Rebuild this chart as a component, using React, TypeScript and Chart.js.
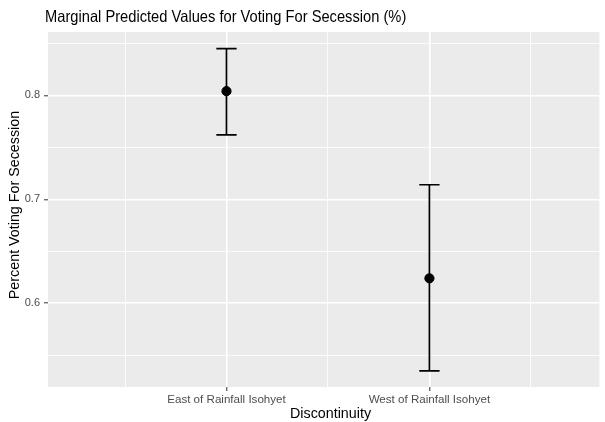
import React, { useEffect, useRef } from "react";
import { Chart, registerables } from "chart.js";

Chart.register(...registerables);

const categories = ["East of Rainfall Isohyet", "West of Rainfall Isohyet"];
const predicted = [0.804, 0.624];
const lowerCI = [0.762, 0.535];
const upperCI = [0.845, 0.714];
const yMajorTicks = [0.6, 0.7, 0.8];
const yMinorTicks = [0.55, 0.65, 0.75, 0.85];

const titleText = "Marginal Predicted Values for Voting For Secession (%)";
const xTitle = "Discontinuity";
const yTitle = "Percent Voting For Secession";
const FONT = "'Liberation Sans', Arial, Helvetica, sans-serif";

const isMajor = (v: number, step: number) => Math.abs(v / step - Math.round(v / step)) < 1e-6;

export default function App() {
  const ref = useRef<HTMLCanvasElement | null>(null);
  useEffect(() => {
    document.body.style.margin = "0";
    document.body.style.overflow = "hidden";
    const canvas = ref.current!;
    const positions = categories.map((_, i) => i + 1);

    const decor = {
      id: "decor",
      beforeDraw(chart: any) {
        const { ctx, chartArea } = chart;
        ctx.save();
        ctx.fillStyle = "#FFFFFF";
        ctx.fillRect(0, 0, chart.width, chart.height);
        ctx.fillStyle = "#EBEBEB";
        ctx.fillRect(chartArea.left, chartArea.top, chartArea.right - chartArea.left, chartArea.bottom - chartArea.top);
        ctx.restore();
      },
      beforeDatasetsDraw(chart: any) {
        const { ctx } = chart;
        const xs = chart.scales.x;
        const ys = chart.scales.y;
        ctx.save();
        ctx.strokeStyle = "#000000";
        ctx.lineWidth = 1.7;
        positions.forEach((p, i) => {
          const x = xs.getPixelForValue(p);
          const xl = xs.getPixelForValue(p - 0.05);
          const xr = xs.getPixelForValue(p + 0.05);
          const yt = ys.getPixelForValue(upperCI[i]);
          const yb = ys.getPixelForValue(lowerCI[i]);
          ctx.beginPath();
          ctx.moveTo(x, yt);
          ctx.lineTo(x, yb);
          ctx.moveTo(xl, yt);
          ctx.lineTo(xr, yt);
          ctx.moveTo(xl, yb);
          ctx.lineTo(xr, yb);
          ctx.stroke();
        });
        ctx.restore();
      },
      afterDraw(chart: any) {
        const { ctx } = chart;
        ctx.save();
        ctx.fillStyle = "#000000";
        ctx.textBaseline = "alphabetic";
        ctx.save();
        ctx.font = `16.5px ${FONT}`;
        ctx.textAlign = "left";
        ctx.translate(45, 22);
        ctx.scale(0.89, 1);
        ctx.fillText(titleText, 0, 0);
        ctx.restore();
        ctx.font = `14.3px ${FONT}`;
        ctx.textAlign = "center";
        ctx.fillText(xTitle, 330.5, 418);
        ctx.translate(19, 205);
        ctx.rotate(-Math.PI / 2);
        ctx.fillText(yTitle, 0, 0);
        ctx.restore();
      },
    };

    const chart = new Chart(canvas, {
      type: "scatter",
      data: {
        datasets: [
          {
            data: positions.map((p, i) => ({ x: p, y: predicted[i] })),
            backgroundColor: "#000000",
            borderColor: "#000000",
            pointRadius: 4.6,
            pointHoverRadius: 4.6,
          },
        ],
      },
      options: {
        animation: false,
        responsive: false,
        devicePixelRatio: 1,
        layout: { padding: { top: 32, left: 0, right: 0, bottom: 0 } },
        plugins: { legend: { display: false }, tooltip: { enabled: false }, title: { display: false } },
        scales: {
          x: {
            type: "linear",
            min: 0.1205,
            max: 2.8376,
            afterBuildTicks: (s: any) => {
              s.ticks = [0.5, 1, 1.5, 2, 2.5].map((v) => ({ value: v }));
            },
            afterFit: (s: any) => {
              s.height = 35;
            },
            ticks: {
              autoSkip: false,
              maxRotation: 0,
              padding: 1.5,
              color: "#4D4D4D",
              font: { family: FONT, size: 11.6 },
              callback: (v: any) => {
                const n = Number(v);
                const idx = positions.indexOf(n);
                return idx >= 0 ? categories[idx] : "";
              },
            },
            grid: {
              color: "#FFFFFF",
              lineWidth: (c: any) => (isMajor(c.tick.value, 1) ? 1.6 : 0.8),
              tickLength: 4,
              tickColor: (c: any) => (isMajor(c.tick.value, 1) ? "#333333" : "rgba(0,0,0,0)"),
              tickWidth: 1,
            },
            border: { display: false },
          },
          y: {
            type: "linear",
            min: 0.5195,
            max: 0.8609,
            afterBuildTicks: (s: any) => {
              s.ticks = [...yMajorTicks, ...yMinorTicks].sort((a, b) => a - b).map((v) => ({ value: v }));
            },
            afterFit: (s: any) => {
              s.width = 48;
            },
            ticks: {
              autoSkip: false,
              padding: 4,
              color: "#4D4D4D",
              font: { family: FONT, size: 11 },
              callback: (v: any) => {
                const n = Number(v);
                return yMajorTicks.some((m) => Math.abs(m - n) < 1e-6) ? n.toFixed(1) : "";
              },
            },
            grid: {
              color: "#FFFFFF",
              lineWidth: (c: any) => (yMajorTicks.some((m) => Math.abs(m - c.tick.value) < 1e-6) ? 1.6 : 0.8),
              tickLength: 4,
              tickColor: (c: any) =>
                yMajorTicks.some((m) => Math.abs(m - c.tick.value) < 1e-6) ? "#333333" : "rgba(0,0,0,0)",
              tickWidth: 1,
            },
            border: { display: false },
          },
        },
      },
      plugins: [decor],
    } as any);
    return () => chart.destroy();
  }, []);

  return (
    <div style={{ width: 605, height: 422 }}>
      <canvas ref={ref} width={605} height={422} style={{ display: "block", width: 605, height: 422 }} />
    </div>
  );
}
